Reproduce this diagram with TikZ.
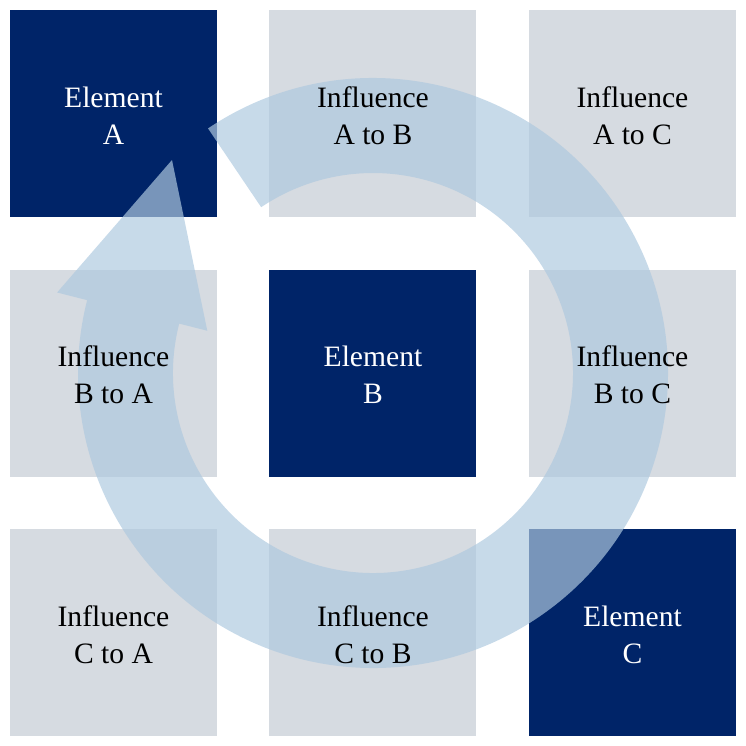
\documentclass[tikz,border=0pt]{standalone}
\usepackage{fontspec}
\setmainfont{Liberation Serif}
\usetikzlibrary{positioning}
\definecolor{navy}{RGB}{0,36,104}
\definecolor{lightgrey}{RGB}{214,219,225}
\definecolor{bandblue}{RGB}{174,201,223}

\begin{document}
\begin{tikzpicture}[x=0.5pt, y=0.5pt,
    cell/.style={minimum size=103.5pt, inner sep=0pt, outer sep=0pt},
    txt/.style={align=center, yshift=-1pt, font=\fontsize{14.8}{18.5}\selectfont}]
    \useasboundingbox (-373,-373) rectangle (373,373);
    % Grid cells (col, row)
    \foreach \n/\c/\r/\col in {
        ea/0/0/navy, iab/1/0/lightgrey, iac/2/0/lightgrey,
        iba/0/1/lightgrey, eb/1/1/navy, ibc/2/1/lightgrey,
        ica/0/2/lightgrey, icb/1/2/lightgrey, ec/2/2/navy} {
        \node[cell, fill=\col] (\n) at ({(\c-1)*259.5}, {(1-\r)*259.5}) {};
    }
    % Circular arrow, clockwise
    \fill[bandblue, opacity=0.69] (124:295) arc[start angle=124, end angle=-194.3, radius=295]
        -- (-194.3:326) -- (-201,213) -- (-194.3:171) -- (-194.3:200)
        arc[start angle=-194.3, end angle=124, radius=200] -- cycle;
    % Cell labels
    \foreach \n/\t/\tc in {
        ea/{Element\\A}/white, iab/{Influence\\A to B}/black, iac/{Influence\\A to C}/black,
        iba/{Influence\\B to A}/black, eb/{Element\\B}/white, ibc/{Influence\\B to C}/black,
        ica/{Influence\\C to A}/black, icb/{Influence\\C to B}/black, ec/{Element\\C}/white} {
        \node[txt, text=\tc] at (\n) {\t};
    }
\end{tikzpicture}
\end{document}
